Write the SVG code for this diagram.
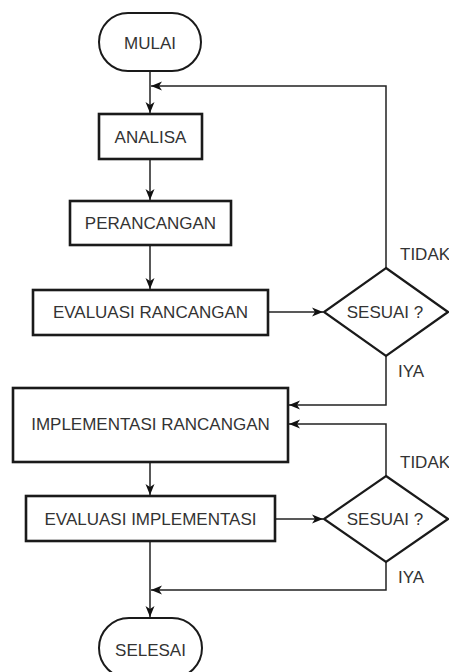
<svg xmlns="http://www.w3.org/2000/svg" width="449" height="672" viewBox="0 0 449 672">
<style>
.box{fill:#fff;stroke:#1a1a1a;stroke-width:2.6}
.term{fill:#fff;stroke:#1a1a1a;stroke-width:2}
.dia{fill:#fff;stroke:#1a1a1a;stroke-width:2.2}
.t{font-family:"Liberation Sans",Arial,sans-serif;font-size:17px;fill:#333;text-anchor:middle;dominant-baseline:central}
.lbl{font-family:"Liberation Sans",Arial,sans-serif;font-size:17px;fill:#333}
.c{fill:none;stroke:#222;stroke-width:1.5}
</style>
<defs>
<marker id="arr" markerUnits="userSpaceOnUse" markerWidth="12" markerHeight="10" refX="11" refY="5" orient="auto">
<path d="M0,0.5 L11,5 L0,9.5 L3,5 Z" fill="#111"/>
</marker>
</defs>
<g id="connectors">
<path class="c" d="M150,71 V113" marker-end="url(#arr)"/>
<path class="c" d="M386,268 V86 H151" marker-end="url(#arr)"/>
<path class="c" d="M150,159 V200" marker-end="url(#arr)"/>
<path class="c" d="M150,245 V289" marker-end="url(#arr)"/>
<path class="c" d="M268,312 H323" marker-end="url(#arr)"/>
<path class="c" d="M386,356 V405 H289" marker-end="url(#arr)"/>
<path class="c" d="M386,476 V424 H289" marker-end="url(#arr)"/>
<path class="c" d="M150,462 V495" marker-end="url(#arr)"/>
<path class="c" d="M275,519 H323" marker-end="url(#arr)"/>
<path class="c" d="M386,562 V590 H151" marker-end="url(#arr)"/>
<path class="c" d="M150,541 V617" marker-end="url(#arr)"/>
</g>
<g id="mulai">
<rect class="term" x="99" y="13" width="102" height="58" rx="29" ry="29"/>
<text class="t" x="150" y="43">MULAI</text>
</g>
<g id="analisa">
<rect class="box" x="99" y="114" width="103" height="45"/>
<text class="t" x="150.5" y="137">ANALISA</text>
</g>
<g id="perancangan">
<rect class="box" x="70" y="201" width="161" height="44"/>
<text class="t" x="150.5" y="223">PERANCANGAN</text>
</g>
<g id="evaluasi-rancangan">
<rect class="box" x="33" y="290" width="235" height="45"/>
<text class="t" x="150.5" y="312.5">EVALUASI RANCANGAN</text>
</g>
<g id="sesuai-1">
<polygon class="dia" points="386,268 448,312 386,356 324,312"/>
<text class="t" x="385" y="312.5">SESUAI ?</text>
</g>
<g id="labels-1">
<text class="lbl" x="400" y="260">TIDAK</text>
<text class="lbl" x="398" y="377">IYA</text>
</g>
<g id="implementasi-rancangan">
<rect class="box" x="13" y="388" width="275" height="74"/>
<text class="t" x="150.5" y="424.5">IMPLEMENTASI RANCANGAN</text>
</g>
<g id="evaluasi-implementasi">
<rect class="box" x="26" y="496" width="249" height="45"/>
<text class="t" x="150.5" y="519">EVALUASI IMPLEMENTASI</text>
</g>
<g id="sesuai-2">
<polygon class="dia" points="386,476 448,519 386,562 324,519"/>
<text class="t" x="385" y="519">SESUAI ?</text>
</g>
<g id="labels-2">
<text class="lbl" x="400" y="468">TIDAK</text>
<text class="lbl" x="398" y="583">IYA</text>
</g>
<g id="selesai">
<rect class="term" x="99" y="618" width="103" height="60" rx="30" ry="30"/>
<text class="t" x="150.5" y="650">SELESAI</text>
</g>
</svg>
